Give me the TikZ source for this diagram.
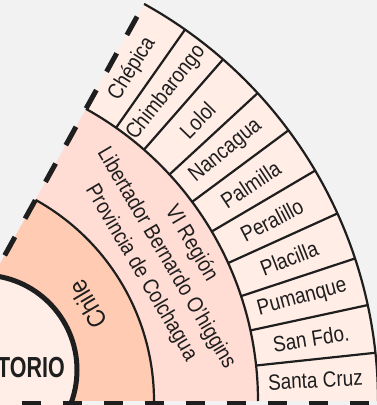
\documentclass[tikz,border=0pt]{standalone}
\usepackage{fontspec}
\setmainfont{Liberation Sans}[FakeStretch=0.86]
\newfontfamily\terrfont{Liberation Sans}[FakeStretch=0.74]
\usepackage{xcolor}
\definecolor{mapgray}{RGB}{242,242,242}
\definecolor{mapink}{RGB}{30,30,30}
\definecolor{mapcomuna}{RGB}{255,237,230}
\definecolor{mapregion}{RGB}{255,220,212}
\definecolor{mapchile}{RGB}{255,204,179}
\definecolor{mapterr}{RGB}{255,238,232}
\usetikzlibrary{calc}

\begin{document}
\begin{tikzpicture}[x=1pt,y=1pt,
  ring/.style={draw=mapink,line width=2.2pt},
  cutline/.style={mapink,line width=5pt},
  comuna/.style={inner sep=0pt,text=mapink,font=\fontsize{22}{26}\selectfont},
  region/.style={inner sep=0pt,text=mapink,align=center,font=\fontsize{22}{29}\selectfont},
  terr/.style={circle,draw=mapink,line width=5pt,fill=mapterr,inner sep=0pt,minimum size=190pt}]
  \useasboundingbox (0,0) rectangle (377,405);
  \fill[mapgray] (0,0) rectangle (377,405);
  \clip (0,0) rectangle (377,405);
  \coordinate (O) at (-76,4);
  \begin{scope}[shift={(O)}]
    % Rings
    \fill[mapcomuna] (0,0) -- (0:454) arc[start angle=0,end angle=61,radius=454] -- cycle;
    \fill[mapregion] (0,0) -- (0:334) arc[start angle=0,end angle=61,radius=334] -- cycle;
    \fill[mapchile] (0,0) -- (0:230) arc[start angle=0,end angle=61,radius=230] -- cycle;
    \foreach \r in {230,334,454}{
      \draw[ring] (0:\r) arc[start angle=0,end angle=61,radius=\r];
    }
    % Comunas
    \foreach \k in {1,...,9}{
      \draw[ring] ({\k*6.1}:334) -- ({\k*6.1}:454);
    }
    \foreach \c [count=\i from 0] in {Santa Cruz,San Fdo.,Pumanque,Placilla,Peralillo,Palmilla,Nancagua,Lolol,Chimbarongo,Chépica}{
      \node[comuna,rotate={(\i+0.5)*6.1}] (com\i) at ({(\i+0.5)*6.1}:392) {\c};
    }
    % Region and country
    \node[region,rotate=-59.5] (vireg) at (30.5:281) {VI Región\\Libertador Bernardo O'higgins\\Provincia de Colchagua};
    \node[comuna,font=\fontsize{26}{28}\selectfont,rotate=120.5] (chile) at (30.5:190) {Chile};
  \end{scope}
  % Centre
  \node[terr] (centro) at (-18,35) {};
  \node[anchor=east,inner sep=0pt,text=mapink,font=\terrfont\bfseries\fontsize{29}{30}\selectfont] (torio) at (65,37) {TORIO};
  % Cut edges
  \draw[cutline,dash pattern=on 19.5pt off 21.5pt,dash phase=25.5pt] ($(O)+(0,-2.5)$) -- ++(460,0);
  \draw[cutline,dash pattern=on 21pt off 21pt,dash phase=1.5pt] (O) -- ($(O)+(61:456)$);
\end{tikzpicture}
\end{document}
